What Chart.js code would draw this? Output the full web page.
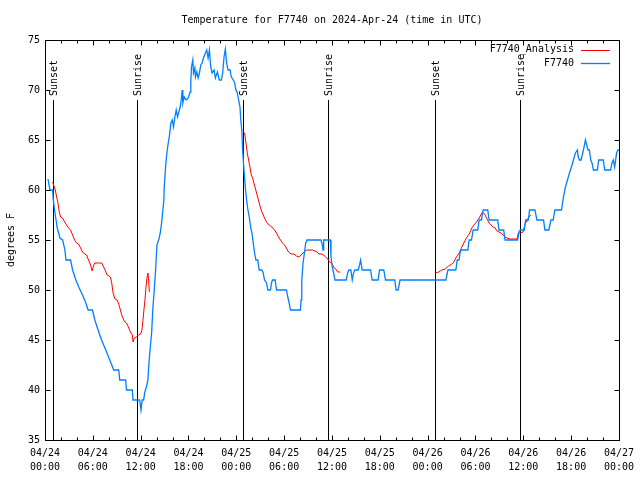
<!DOCTYPE html>
<html><head><meta charset="utf-8">
<script src="https://cdn.jsdelivr.net/npm/chart.js@4.4.0/dist/chart.umd.min.js"></script>
<style>html,body{margin:0;padding:0;background:#fff}canvas{display:block}</style>
</head><body>
<canvas id="c" width="640" height="480"></canvas>
<script>
const titleText = 'Temperature for F7740 on 2024-Apr-24 (time in UTC)';
const yTitle = 'degrees F';
const tickDates = ['04/24','04/24','04/24','04/24','04/25','04/25','04/25','04/25','04/26','04/26','04/26','04/26','04/27'];
const tickTimes = ['00:00','06:00','12:00','18:00','00:00','06:00','12:00','18:00','00:00','06:00','12:00','18:00','00:00'];

const eventHours = [1.04, 11.54, 24.9, 35.54, 48.92, 59.54];
const eventNames = ['Sunset','Sunrise','Sunset','Sunrise','Sunset','Sunrise'];

const blueHours = [0.375,0.625,0.96,1.04,1.25,1.54,1.875,2.21,2.5,2.625,3.21,3.46,3.875,4.29,4.71,5.125,5.41,5.96,6.25,6.66,7.09,7.625,8.125,8.625,9.25,9.375,10.125,10.21,10.96,11.04,11.875,12.04,12.19,12.375,12.5,12.71,12.91,13.04,13.21,13.375,13.54,13.71,13.875,14.04,14.29,14.46,14.625,14.75,14.91,14.96,15.125,15.29,15.46,15.625,15.79,15.96,16.125,16.29,16.46,16.625,16.79,16.96,17.09,17.21,17.29,17.46,17.71,17.96,18.21,18.29,18.375,18.54,18.625,18.79,18.875,19.04,19.21,19.375,19.54,19.71,19.875,20.125,20.29,20.46,20.625,20.79,20.96,21.21,21.375,21.625,21.875,22.125,22.29,22.46,22.625,22.79,22.96,23.21,23.375,23.625,23.79,23.96,24.125,24.29,24.46,24.56,24.69,24.79,24.96,25.125,25.29,25.46,25.625,25.79,25.96,26.125,26.29,26.46,26.69,26.875,27.19,27.375,27.54,27.79,27.96,28.29,28.41,28.54,28.875,29.04,30.29,30.46,30.625,30.79,32.04,32.125,32.21,32.375,32.54,32.71,32.875,34.625,34.79,34.875,34.96,35.79,35.875,36.04,36.21,36.375,37.79,37.96,38.125,38.375,38.54,38.71,38.875,39.29,39.46,39.59,39.79,40.84,41.04,41.79,41.96,42.5,42.71,43.875,44.04,44.29,44.54,50.29,50.54,51.54,51.71,51.94,52.125,53.04,53.21,53.5,53.71,54.29,54.46,54.75,54.96,55.54,55.71,56.79,56.96,57.54,57.71,59.29,59.46,59.625,60.125,60.29,60.625,60.79,61.46,61.71,62.54,62.71,63.21,63.46,63.75,63.96,64.79,65.04,65.29,65.54,65.79,66.04,66.29,66.54,66.79,66.875,67.04,67.25,67.46,67.625,67.79,67.96,68.125,68.29,68.46,68.625,68.79,69.29,69.46,70.04,70.21,70.96,71.125,71.29,71.46,71.71,71.875,72];
const blueTemps = [61.1,60,60,59,57.7,56.2,55.2,55,54,53,53,52,51,50.2,49.5,48.7,48,48,47,46,45,44,43,42,42,41,41,40,40,39,39,38,39,39,39.7,40.3,41,42.7,44.3,45.7,48.3,50,52,54.5,55.1,55.7,56.7,57.7,59,60.3,62.3,63.7,64.7,65.5,66.7,67,66.3,67.3,68,67.3,67.8,68.3,69,70,68.7,69.3,69,69.2,69.8,70.8,72.3,73,71.7,72.2,71.3,71.8,71.2,71.7,72.5,72.7,73.2,73.7,74,73.2,74,72.3,71.7,72,71.2,71.8,71,71,71.7,73.3,74.1,72.7,72,72,71.3,71,70.7,70,69.7,69,68.3,67,66,64,62,60.3,59,58,57.3,56.3,55.7,54.7,53.7,53,53,52,52,51.7,51,50.7,50,50,50.7,51,51,50,50,49.3,48.7,48,48,49,51,52.7,53.7,54.7,55,55,54.5,54,55,55,53.3,52.3,51.7,51,51,51.7,52,52,51,51.7,52,52,52.5,53,52,52,51,51,52,52,51,51,50,50,51,51,52,52,53,53,54,54,55,55,56,56,57,57,58,58,57,57,56,56,55,55,55.8,56,56,57,57,58,58,57,57,56,56,57,57,58,58,59.3,60.3,61,61.7,62.3,63,63.7,64,63.4,63,63,63.7,64.3,65,64.5,64,64,63,62.7,62,62,63,63,62,62,62.7,63,62.3,63.7,64,64];

const redHours = [0.96,1.29,1.46,1.625,1.79,1.96,2.21,2.46,2.71,2.96,3.21,3.46,3.71,3.96,4.21,4.46,4.71,4.96,5.21,5.46,5.71,5.91,6.04,6.21,6.71,7.125,7.29,7.54,7.79,8.04,8.21,8.375,8.54,8.79,9.04,9.21,9.46,9.625,9.875,10.04,10.21,10.46,10.71,10.96,11.04,11.21,11.46,11.71,12.0,12.16,12.29,12.41,12.54,12.66,12.79,12.91,13.0,13.09,
  13.5,
  24.875,25.04,25.21,25.375,25.54,25.71,25.875,26.04,26.21,26.375,26.54,26.71,26.875,27.04,27.21,27.375,27.54,27.79,28.125,28.46,28.79,29.04,29.29,29.54,29.79,30.04,30.29,30.54,30.875,31.21,31.54,31.875,32.125,32.375,32.625,32.875,33.54,33.875,34.125,34.375,34.71,34.96,35.21,35.46,35.71,35.96,36.21,36.46,36.71,37.04,
  37.5,
  48.96,49.375,49.79,50.21,50.625,51.04,51.29,51.54,51.79,52.04,52.29,52.54,52.79,53.04,53.29,53.54,53.79,54.04,54.29,54.54,54.79,55.04,55.21,55.46,55.71,55.96,56.21,56.46,56.71,56.96,57.21,57.46,57.71,57.96,58.34,58.75,59.21,59.375,59.625,59.96,60.125,60.29,60.46,60.625,60.79,60.96];
const redTemps = [60.8,60,59.3,58.7,57.8,57.3,57.2,56.8,56.5,56.2,56,55.5,55,54.7,54.6,54.2,53.8,53.6,53.5,53,52.5,51.9,52.3,52.7,52.7,52.7,52.4,52,51.5,51.4,51.3,50.7,49.7,49.1,49,48.7,48,47.5,47,46.8,46.7,46.3,45.8,45.5,44.8,45.2,45.3,45.5,45.6,46,47,48,49,50.2,51.2,51.7,51,49.8,
  null,
  65.8,65.7,64.7,63.7,63,62.3,61.5,61.2,60.7,60.2,59.7,59.2,58.7,58.2,57.8,57.5,57.2,56.8,56.5,56.3,56,55.7,55.3,55,54.7,54.5,54.2,53.8,53.6,53.6,53.4,53.3,53.5,53.7,53.9,54,54,53.9,53.8,53.6,53.6,53.5,53.3,53.1,52.8,52.7,52.3,52.1,51.8,51.8,
  null,
  51.7,51.8,52,52.1,52.4,52.6,52.8,53.2,53.5,53.8,54.3,54.7,55.1,55.4,55.7,56.2,56.5,56.7,57,57.3,57.7,57.7,57.5,57.1,56.7,56.5,56.3,56.2,55.9,55.8,55.7,55.5,55.3,55.2,55.1,55.1,55.1,55.7,55.7,55.8,56.3,56.7,56.9,57.2,57.4,57.5];

const FONT = "'DejaVu Sans Mono', monospace";

const gnuplotDecor = {
  id: 'gnuplotDecor',
  beforeDatasetsDraw(chart) {
    const ctx = chart.ctx, xs = chart.scales.x, a = chart.chartArea;
    ctx.save();
    ctx.strokeStyle = '#000'; ctx.lineWidth = 1;
    ctx.fillStyle = '#000';
    ctx.font = '10px ' + FONT;
    const lineTop = a.bottom - 0.85 * (a.bottom - a.top);
    const textStart = a.bottom - 0.86 * (a.bottom - a.top);
    eventHours.forEach((h, i) => {
      const x = Math.round(xs.getPixelForValue(h)) + 0.5;
      ctx.beginPath(); ctx.moveTo(x, a.bottom); ctx.lineTo(x, lineTop); ctx.stroke();
      ctx.save();
      ctx.translate(x + 1, textStart);
      ctx.rotate(-Math.PI / 2);
      ctx.textAlign = 'left'; ctx.textBaseline = 'middle';
      ctx.fillText(eventNames[i], 0, 0);
      ctx.restore();
    });
    ctx.restore();
  },
  afterDraw(chart) {
    const ctx = chart.ctx, xs = chart.scales.x, ys = chart.scales.y, a = chart.chartArea;
    ctx.save();
    ctx.strokeStyle = '#000'; ctx.lineWidth = 1;
    const L = Math.round(a.left) + 0.5, R = Math.round(a.right) + 0.5, T = Math.round(a.top) + 0.5, B = Math.round(a.bottom) + 0.5;
    ctx.beginPath();
    for (let h = xs.min; h <= xs.max + 1e-9; h += 2) {
      const x = Math.round(xs.getPixelForValue(h)) + 0.5;
      const len = (h % 6 === 0) ? 5 : 3;
      ctx.moveTo(x, B); ctx.lineTo(x, B - len);
      ctx.moveTo(x, T); ctx.lineTo(x, T + len);
    }
    ys.ticks.forEach(t => {
      const y = Math.round(ys.getPixelForValue(t.value)) + 0.5;
      ctx.moveTo(L, y); ctx.lineTo(L + 5, y);
      ctx.moveTo(R, y); ctx.lineTo(R - 5, y);
    });
    ctx.stroke();
    ctx.strokeRect(L, T, R - L, B - T);
    ctx.fillStyle = '#000';
    ctx.font = '10px ' + FONT;
    ctx.textAlign = 'center'; ctx.textBaseline = 'middle';
    ctx.fillText(titleText, (a.left + a.right) / 2, 20);
    ctx.save();
    ctx.translate(11, (a.top + a.bottom) / 2);
    ctx.rotate(-Math.PI / 2);
    ctx.fillText(yTitle, 0, 0);
    ctx.restore();
    const order = [1, 0];
    order.forEach((di, k) => {
      const ds = chart.data.datasets[di];
      const y = 49.5 + k * 13.5;
      ctx.textAlign = 'right'; ctx.textBaseline = 'middle';
      ctx.fillText(ds.label, 574, y);
      ctx.strokeStyle = ds.borderColor; ctx.lineWidth = ds.borderWidth;
      ctx.beginPath(); ctx.moveTo(581, Math.round(y) + 0.5); ctx.lineTo(610, Math.round(y) + 0.5); ctx.stroke();
    });
    ctx.restore();
  }
};

new Chart(document.getElementById('c'), {
  type: 'line',
  data: {
    datasets: [
      { label: 'F7740', data: blueHours.map((h, i) => ({ x: h, y: blueTemps[i] })),
        borderColor: '#0080ff', borderWidth: 1.3, pointRadius: 0, tension: 0, order: 0, fill: false },
      { label: 'F7740_Analysis', data: redHours.map((h, i) => ({ x: h, y: redTemps[i] })),
        borderColor: '#ff0000', borderWidth: 1, pointRadius: 0, tension: 0, spanGaps: false, order: 1, fill: false }
    ]
  },
  options: {
    responsive: false, animation: false, devicePixelRatio: 1,
    layout: { padding: { top: 40, right: 19, left: 0, bottom: 0 } },
    plugins: { legend: { display: false }, tooltip: { enabled: false }, title: { display: false } },
    scales: {
      x: {
        type: 'linear', min: 0, max: 72,
        grid: { display: false, drawTicks: false }, border: { display: false },
        ticks: { stepSize: 6, autoSkip: false, maxRotation: 0, padding: 6, color: '#000',
          font: { family: FONT, size: 10, lineHeight: 1.4 },
          callback: (v) => { const i = Math.round(v / 6); return [tickDates[i], tickTimes[i]]; } },
        afterFit: s => { s.height = 40; }
      },
      y: {
        min: 35, max: 75,
        grid: { display: false, drawTicks: false }, border: { display: false },
        ticks: { stepSize: 5, padding: 5, color: '#000', font: { family: FONT, size: 10 } },
        afterFit: s => { s.width = 45; }
      }
    }
  },
  plugins: [gnuplotDecor]
});
</script>
</body></html>
